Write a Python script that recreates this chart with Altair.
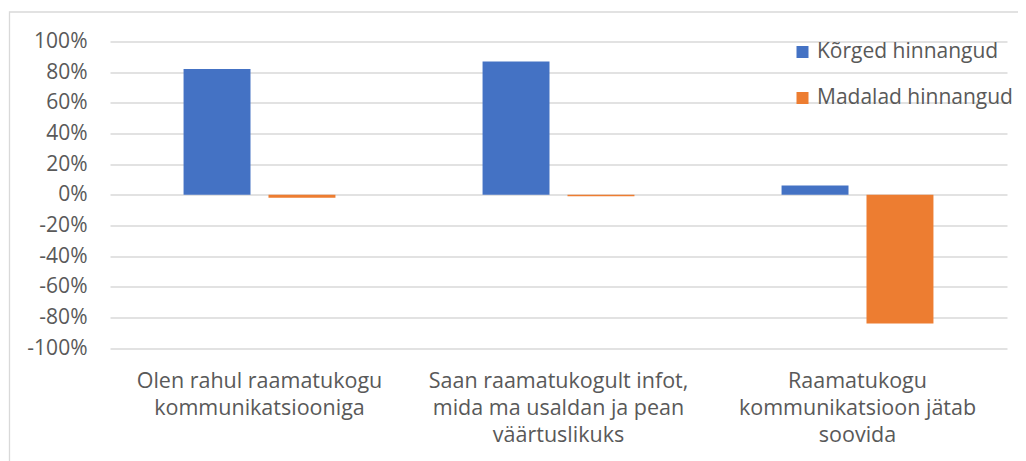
import altair as alt
import pandas as pd

categories = [
    "Olen rahul raamatukogu\nkommunikatsiooniga",
    "Saan raamatukogult infot,\nmida ma usaldan ja pean\nväärtuslikuks",
    "Raamatukogu\nkommunikatsioon jätab\nsoovida",
]
series = ["Kõrged hinnangud", "Madalad hinnangud"]
high = [82, 87, 6]
low = [-2, -1, -84]
y_ticks = [-100, -80, -60, -40, -20, 0, 20, 40, 60, 80, 100]
colors = ["#4472C4", "#ED7D31"]

rows = []
for c, h, l in zip(categories, high, low):
    rows.append({"cat": c, "series": series[0], "value": h})
    rows.append({"cat": c, "series": series[1], "value": l})
df = pd.DataFrame(rows)

FONT = "Open Sans"
GRAY = "#595959"

bars = alt.Chart(df).mark_bar().encode(
    x=alt.X(
        "cat:N",
        sort=categories,
        scale=alt.Scale(paddingInner=0, paddingOuter=0),
        axis=alt.Axis(
            title=None, labelAngle=0, domain=False, ticks=False,
            labelExpr="split(datum.label, '\\n')",
            labelFontSize=21.5, labelColor=GRAY, labelFont=FONT,
            labelLineHeight=27, labelPadding=22, labelLimit=0,
        ),
    ),
    xOffset=alt.XOffset(
        "series:N", sort=series,
        scale=alt.Scale(paddingInner=0.2118, paddingOuter=0.866),
    ),
    y=alt.Y(
        "value:Q",
        scale=alt.Scale(domain=[-100, 100], nice=False),
        axis=alt.Axis(
            title=None, values=y_ticks, labelExpr="datum.value + '%'",
            domain=False, ticks=False, grid=True, gridColor="#d9d9d9",
            gridWidth=1.3, labelFontSize=21, labelColor=GRAY, labelFont=FONT,
            labelPadding=23,
        ),
    ),
    color=alt.Color(
        "series:N", sort=series,
        scale=alt.Scale(domain=series, range=colors),
        legend=alt.Legend(
            title=None, orient="none", legendX=682, legendY=0,
            symbolType="square", symbolSize=144, symbolStrokeWidth=0,
            labelFontSize=21, labelFont=FONT, labelColor=GRAY, labelLimit=0,
            rowPadding=24, padding=0, labelOffset=4, direction="vertical",
        ),
    ),
)

frame = alt.Chart(pd.DataFrame({"f": [0]})).mark_rect(
    fillOpacity=0, stroke="#d9d9d9", strokeWidth=1.3
).encode(
    x=alt.value(-100.5), x2=alt.value(940),
    y=alt.value(-29.5), y2=alt.value(440),
)

chart = alt.layer(frame, bars).properties(
    width=897,
    height=306.5,
    autosize=alt.AutoSizeParams(type="none"),
    padding={"left": 102, "top": 33.5, "right": 11, "bottom": 113},
).configure_view(strokeWidth=0)

chart.save("out.html", embed_options={"renderer": "svg", "actions": False})
